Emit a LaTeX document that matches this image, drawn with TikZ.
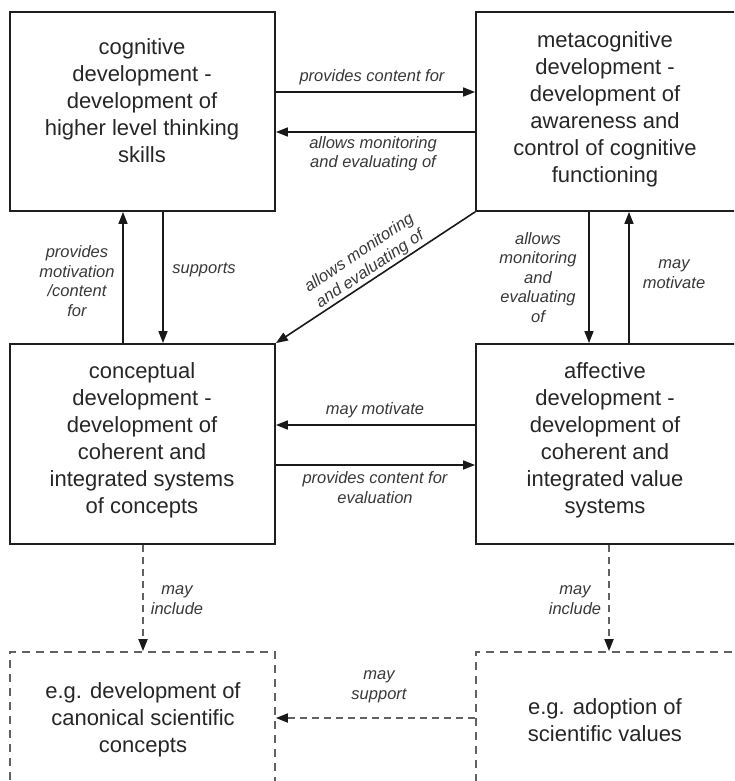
\documentclass[tikz,border=0pt]{standalone}
\usepackage{fontspec}
\setmainfont{Liberation Sans}
\usetikzlibrary{arrows.meta}
\begin{document}
\begin{tikzpicture}[x=1pt,y=-1pt,
  devbox/.style={draw=black!88, line width=1.8pt, minimum width=265pt, inner sep=0pt},
  examplebox/.style={draw=black!62, line width=1.8pt, dash pattern=on 8pt off 6pt, minimum width=265pt, inner sep=0pt},
  boxtext/.style={align=center, font=\fontsize{22}{27}\selectfont, text=black!85, inner sep=0pt},
  lbl/.style={align=center, font=\fontsize{16.5}{19.5}\selectfont\itshape, text=black!78, inner sep=1pt},
  link/.style={draw=black!90, line width=1.6pt, -{Triangle[length=12pt,width=9pt]}},
  maylink/.style={draw=black!62, line width=1.8pt, dash pattern=on 7pt off 5pt, -{Triangle[length=12pt,width=9pt,fill=black!90,color=black!90]}}
]
\useasboundingbox (0,0) rectangle (734,781);
\clip (0,0) rectangle (734,781);

% the four areas of development
\node[devbox, minimum height=199pt] (cog) at (142.5,111.5) {};
\node[devbox, minimum height=199pt, minimum width=264pt] (meta) at (608,111.5) {};
\node[devbox, minimum height=200pt] (concept) at (142.5,444) {};
\node[devbox, minimum height=200pt, minimum width=264pt] (affect) at (608,444) {};

% the two example boxes, running off the lower edge
\node[examplebox, minimum height=148pt] (canon) at (142.5,726) {};
\node[examplebox, minimum height=148pt, minimum width=264pt] (adopt) at (608,726) {};

% box texts
\node[boxtext] (cogtext) at (142,101) {cognitive\\development -\\development of\\higher level thinking\\skills};
\node[boxtext] (metatext) at (605,109) {metacognitive\\development -\\development of\\awareness and\\control of cognitive\\functioning};
\node[boxtext] (concepttext) at (142,440) {conceptual\\development -\\development of\\coherent and\\integrated systems\\of concepts};
\node[boxtext] (affecttext) at (605,440) {affective\\development -\\development of\\coherent and\\integrated value\\systems};
\node[boxtext] (canontext) at (143,720) {e.g. development of\\canonical scientific\\concepts};
\node[boxtext] (adopttext) at (605,720) {e.g. adoption of\\scientific values};

% helper rows and columns for the connectors
\coordinate (rowA) at (0,92);
\coordinate (rowB) at (0,132);
\coordinate (rowC) at (0,425);
\coordinate (rowD) at (0,465);
\coordinate (rowE) at (0,718);
\coordinate (colA) at (123,0);
\coordinate (colB) at (163,0);
\coordinate (colC) at (589,0);
\coordinate (colD) at (629,0);
\coordinate (colE) at (143,0);
\coordinate (colF) at (609,0);

% solid connectors
\draw[link] (cog.east |- rowA) -- (meta.west |- rowA);
\draw[link] (meta.west |- rowB) -- (cog.east |- rowB);
\draw[link] (concept.north -| colA) -- (cog.south -| colA);
\draw[link] (cog.south -| colB) -- (concept.north -| colB);
\draw[link] (meta.south west) -- node[lbl, rotate=33.7, anchor=south] (diaglbl) {allows monitoring\\and evaluating of} (concept.north east);
\draw[link] (meta.south -| colC) -- (affect.north -| colC);
\draw[link] (affect.north -| colD) -- (meta.south -| colD);
\draw[link] (affect.west |- rowC) -- (concept.east |- rowC);
\draw[link] (concept.east |- rowD) -- (affect.west |- rowD);

% dashed connectors
\draw[maylink] (concept.south -| colE) -- (canon.north -| colE);
\draw[maylink] (affect.south -| colF) -- (adopt.north -| colF);
\draw[maylink] (adopt.west |- rowE) -- (canon.east |- rowE);

% connector labels
\node[lbl] (l1) at (372,77) {provides content for};
\node[lbl] (l2) at (373,153.5) {allows monitoring\\and evaluating of};
\node[lbl] (l3) at (77,281) {provides\\motivation\\/content\\for};
\node[lbl] (l4) at (204,270) {supports};
\node[lbl] (l6) at (538,277.5) {allows\\monitoring\\and\\evaluating\\of};
\node[lbl] (l7) at (674,274) {may\\motivate};
\node[lbl] (l8) at (375,410) {may motivate};
\node[lbl] (l9) at (375,487.5) {provides content for\\evaluation};
\node[lbl] (l10) at (177,600) {may\\include};
\node[lbl] (l11) at (575,600) {may\\include};
\node[lbl] (l12) at (379,687) {may\\support};
\end{tikzpicture}
\end{document}
